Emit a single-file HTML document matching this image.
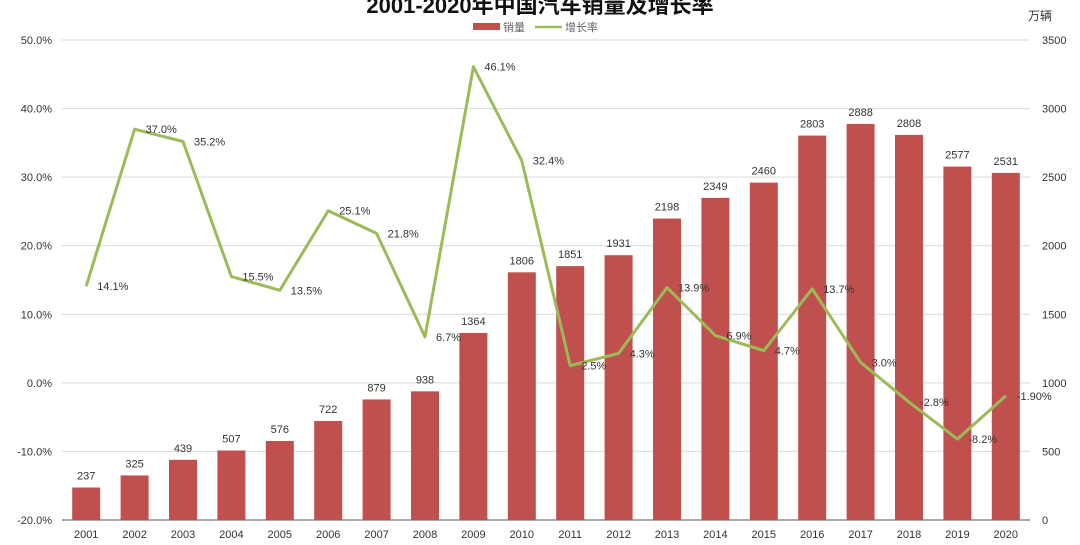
<!DOCTYPE html>
<html><head><meta charset="utf-8"><style>
body{margin:0;background:#fff;width:1080px;height:540px;overflow:hidden;font-family:"Liberation Sans","Noto Sans CJK SC",sans-serif}
svg text{font-family:"Liberation Sans","Noto Sans CJK SC",sans-serif}
</style></head><body>
<svg id="c" width="1080" height="540">
<text x="540" y="13" text-anchor="middle" font-size="22" font-weight="bold" fill="#111">2001-2020年中国汽车销量及增长率</text>
<g>
<rect x="473" y="23" width="27" height="7" fill="#c0504d"/>
<text x="503" y="31" font-size="11" fill="#666">销量</text>
<line x1="535" y1="27" x2="562" y2="27" stroke="#9bbb59" stroke-width="2.5"/>
<text x="565" y="31" font-size="11" fill="#666">增长率</text>
</g>
<text x="1040" y="20" text-anchor="middle" font-size="12" fill="#333">万辆</text>
<g id="grid"></g><g id="bars"></g><g id="line"></g><g id="labels"></g><g id="axes"></g>
</svg>
<script>
const years=["2001","2002","2003","2004","2005","2006","2007","2008","2009","2010","2011","2012","2013","2014","2015","2016","2017","2018","2019","2020"];
const sales=[237,325,439,507,576,722,879,938,1364,1806,1851,1931,2198,2349,2460,2803,2888,2808,2577,2531];
const growth=[14.1,37.0,35.2,15.5,13.5,25.1,21.8,6.7,46.1,32.4,2.5,4.3,13.9,6.9,4.7,13.7,3.0,-2.8,-8.2,-1.9];
const growthLabels=["14.1%","37.0%","35.2%","15.5%","13.5%","25.1%","21.8%","6.7%","46.1%","32.4%","2.5%","4.3%","13.9%","6.9%","4.7%","13.7%","3.0%","-2.8%","-8.2%","-1.90%"];
const leftTicks=[-20,-10,0,10,20,30,40,50];
const rightTicks=[0,500,1000,1500,2000,2500,3000,3500];
const NS="http://www.w3.org/2000/svg";
const X0=62,X1=1030,Y0=520,Y1=40;
const band=(X1-X0)/years.length;
const xc=i=>X0+band*(i+0.5);
const yL=v=>Y0-(v+20)/70*(Y0-Y1);
const yR=v=>Y0-v/3500*(Y0-Y1);
function mk(t,a,p){const e=document.createElementNS(NS,t);for(const k in a)e.setAttribute(k,a[k]);document.getElementById(p).appendChild(e);return e;}
leftTicks.forEach((t,i)=>{
 const y=yL(t);
 const g=mk('line',{x1:X0,x2:X1,y1:y,y2:y,stroke:i==0?'#aaa':'#d9d9d9','stroke-width':i==0?2:1},'grid');
 
 
 const l=mk('text',{x:52,y:y+4,'text-anchor':'end','font-size':11,fill:'#333'},'axes');l.textContent=t.toFixed(1)+'%';
 
 
});
rightTicks.forEach(t=>{
 const l=mk('text',{x:1042,y:yR(t)+4,'font-size':11,fill:'#333'},'axes');l.textContent=t;
 
 
});
years.forEach((yr,i)=>{
 const l=mk('text',{x:xc(i),y:538,'text-anchor':'middle','font-size':11,fill:'#333'},'axes');l.textContent=yr;
 
 
 const y=yR(sales[i]);
 const b=mk('rect',{x:xc(i)-14,y:y,width:28,height:Y0-y,fill:'#c0504d'},'bars');
 
 
 const v=mk('text',{x:xc(i),y:y-8,'text-anchor':'middle','font-size':11,fill:'#333'},'labels');v.textContent=sales[i];
 
 
 const g=mk('text',{x:xc(i)+11,y:yL(growth[i])+4,'font-size':11,fill:'#333'},'labels');g.textContent=growthLabels[i];
 
 
});
const p=mk('polyline',{points:growth.map((v,i)=>xc(i)+','+yL(v)).join(' '),fill:'none',stroke:'#9bbb59','stroke-width':3,'stroke-linejoin':'round'},'line');


</script>
</body></html>
